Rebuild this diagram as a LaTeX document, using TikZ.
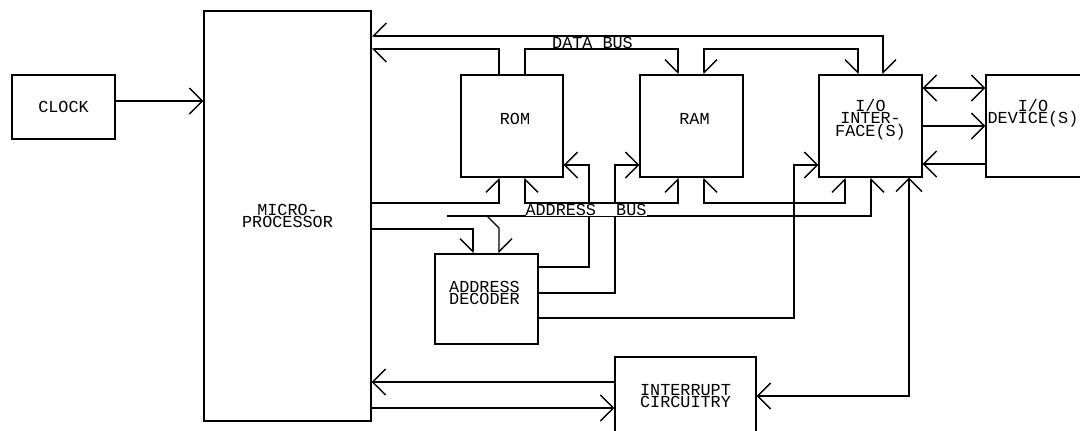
\documentclass[tikz,border=0pt]{standalone}
\usepackage{fontspec}
\setmonofont{Liberation Mono}
\usetikzlibrary{arrows.meta}

\newcommand{\blkfont}{\ttfamily\fontsize{8.4}{6.35}\selectfont\lineskiplimit=-5pt\relax}

\begin{document}
\begin{tikzpicture}[
	x=0.5pt, y=-0.5pt,
	line width=0.7pt,
	>={Straight Barb[length=6.5pt, width=13pt]},
	barbl/.tip={Straight Barb[length=6.5pt, width=13pt, left]},
	barbr/.tip={Straight Barb[length=6.5pt, width=13pt, right]},
	blk/.style={draw, rectangle, inner sep=0pt},
	txt/.style={font=\blkfont, align=center, inner sep=0pt}
	]
	
	\useasboundingbox (0,0) rectangle (1080,430);
	
	\node[blk, txt, minimum width=51.5pt, minimum height=32pt] (clock) at (63.5,107) {CLOCK};
	\node[blk, txt, minimum width=83.5pt, minimum height=205pt] (mpu) at (287.5,216) {MICRO-\\PROCESSOR};
	\node[blk, minimum width=51pt, minimum height=51pt, label={[txt, xshift=1.5pt, yshift=3.5pt]center:ROM}] (rom) at (512,126) {};
	\node[blk, minimum width=51.5pt, minimum height=51pt, label={[txt, xshift=1.5pt, yshift=3.5pt]center:RAM}] (ram) at (691.5,126) {};
	\node[blk, minimum width=51.5pt, minimum height=51pt, label={[txt, yshift=3.25pt]center:{I/O\\INTER-\\FACE(S)}}] (io) at (870.5,126) {};
	\node[blk, minimum width=52pt, minimum height=51pt, label={[txt, xshift=-2.5pt, yshift=6.5pt]center:{I/O\\DEVICE(S)}}] (dev) at (1038,126) {};
	\node[blk, minimum width=51.5pt, minimum height=45pt, label={[txt, xshift=-1pt, yshift=3pt]center:{ADDRESS\\DECODER}}] (dec) at (486.5,299) {};
	\node[blk, txt, minimum width=70.5pt, minimum height=39pt] (irq) at (685.5,396) {INTERRUPT\\CIRCUITRY};
	
	\path
	(160,101) coordinate (k1)
	(883,36) coordinate (d1)
	(499,49) coordinate (d2)
	(525,49) coordinate (d3)
	(678,49) coordinate (d4)
	(704,49) coordinate (d5)
	(858,49) coordinate (d6)
	(447,216) coordinate (a0)
	(499,203) coordinate (a1)
	(525,203) coordinate (a2)
	(678,203) coordinate (a3)
	(704,203) coordinate (a4)
	(845,203) coordinate (a5)
	(871,216) coordinate (a6)
	(487,216) coordinate (a7)
	(499,228) coordinate (a8)
	(473,229) coordinate (a9)
	(700,165) coordinate (cs)
	(589,267) coordinate (c1)
	(615,293) coordinate (c2)
	(794,318) coordinate (c3)
	(954,88) coordinate (e1)
	(954,164) coordinate (e2)
	(909,396) coordinate (i1)
	(490,382) coordinate (i2)
	(490,408) coordinate (i3)
	;
	
	\draw[->] (clock.east |- k1) -- (mpu.west |- k1);
	
	\draw[barbl-barbr] (io.north -| d1) -- (d1) -- (mpu.east |- d1);
	\draw[-barbl] (rom.north -| d2) -- (d2) -- (mpu.east |- d2);
	\draw[-barbr] (rom.north -| d3) -- (d3) -- (d4) -- (ram.north -| d4);
	\draw[barbl-barbr] (ram.north -| d5) -- (d5) -- (d6) -- (io.north -| d6);
	
	\draw[-barbl] (mpu.east |- a1) -- (a1) -- (rom.south -| a1);
	\draw[barbr-barbl] (rom.south -| a2) -- (a2) -- (a3) -- (ram.south -| a3);
	\draw[barbr-barbl] (ram.south -| a4) -- (a4) -- (a5) -- (io.south -| a5);
	\draw[-barbr] (a0) -- (a6) -- (io.south -| a6);
	\draw[-barbl] (a7) -- (a8) -- (dec.north -| a8);
	\draw[-barbr] (mpu.east |- a9) -- (a9) -- (dec.north -| a9);
	
	\draw[->] (dec.east |- c1) -- (c1) -- (c1 |- cs) -- (rom.east |- cs);
	\draw[->] (dec.east |- c2) -- (c2) -- (c2 |- cs) -- (ram.west |- cs);
	\draw[->] (dec.east |- c3) -- (c3) -- (c3 |- cs) -- (io.west |- cs);
	
	\draw[<->] (io.east |- e1) -- (dev.west |- e1);
	\draw[->] (io.east) -- (dev.west);
	\draw[->] (dev.west |- e2) -- (io.east |- e2);
	
	\draw[<->] (io.south -| i1) -- (i1) -- (irq.east);
	\draw[->] (irq.west |- i2) -- (mpu.east |- i2);
	\draw[->] (mpu.east |- i3) -- (irq.west |- i3);
	
	\node[txt] (dbus) at (592.5,42.5) {DATA BUS};
	\node[txt, fill=white] (abus) at (586,210) {ADDRESS\ \ BUS};
	
\end{tikzpicture}
\end{document}
